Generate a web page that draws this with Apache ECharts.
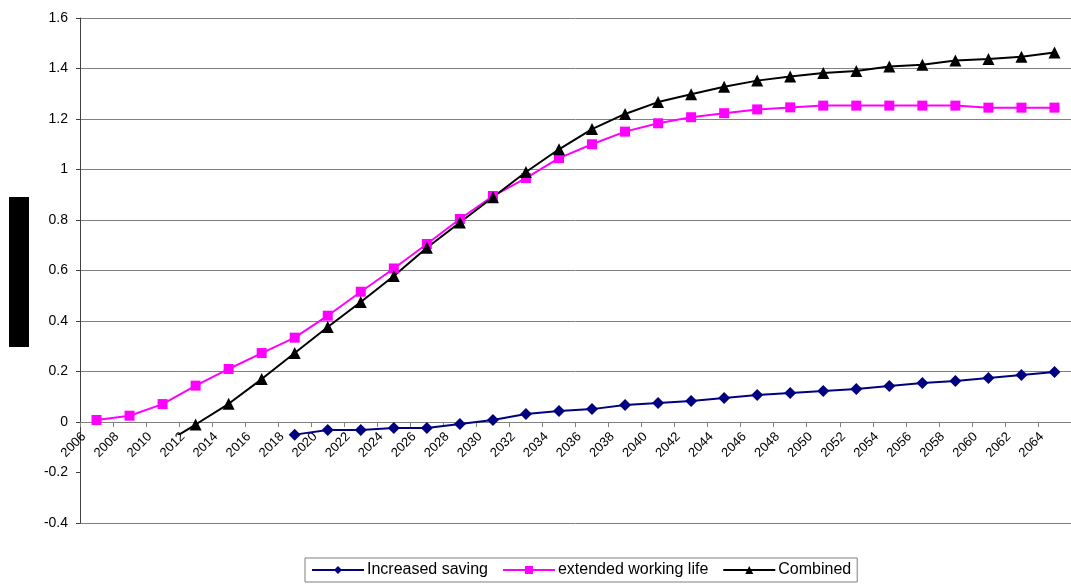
<!DOCTYPE html>
<html>
<head>
<meta charset="utf-8">
<script src="https://cdn.jsdelivr.net/npm/echarts@6/dist/echarts.min.js"></script>
<style>
  html, body { margin: 0; padding: 0; background: #ffffff; }
  #chart { width: 1071px; height: 585px; }
</style>
</head>
<body>
<div id="chart"></div>
<script>
// Years on the category axis
var years = [
  '2006','2008','2010','2012','2014','2016','2018','2020','2022','2024',
  '2026','2028','2030','2032','2034','2036','2038','2040','2042','2044',
  '2046','2048','2050','2052','2054','2056','2058','2060','2062','2064'
];

// Increased saving
var increasedSaving = [
  -0.18, -0.17, -0.16, -0.154, -0.14, -0.10, -0.05, -0.032, -0.032, -0.024,
  -0.024, -0.008, 0.008, 0.032, 0.044, 0.051, 0.067, 0.075, 0.083, 0.095,
  0.107, 0.115, 0.123, 0.131, 0.143, 0.154, 0.162, 0.174, 0.186, 0.198
];

// Extended working life
var extendedWorkingLife = [
  0.008, 0.025, 0.071, 0.144, 0.21, 0.273, 0.334, 0.421, 0.516, 0.608,
  0.705, 0.804, 0.895, 0.966, 1.045, 1.10, 1.15, 1.183, 1.207, 1.223,
  1.238, 1.246, 1.253, 1.253, 1.253, 1.253, 1.253, 1.245, 1.245, 1.245
];

// Combined
var combined = [
  -0.17, -0.15, -0.09, -0.01, 0.072, 0.17, 0.273, 0.376, 0.475, 0.578,
  0.69, 0.79, 0.89, 0.99, 1.08, 1.16, 1.22, 1.267, 1.298, 1.328,
  1.352, 1.368, 1.382, 1.39, 1.408, 1.415, 1.432, 1.438, 1.447, 1.463
];

var seriesNames = ['Increased saving', 'extended working life', 'Combined'];
var seriesColors = ['#000080', '#ff00ff', '#000000'];

// Value axis range and step
var yMin = -0.4, yMax = 1.6, yStep = 0.2;
// the band under the category labels hides everything between these values
var bandTop = -0.05, bandBottom = -0.21;

var gridTop = 18, gridHeight = 505;
// the category axis sits on the zero line of the value axis
var zeroOffset = -gridHeight * (0 - yMin) / (yMax - yMin);

// split line colours, from the bottom line up; the -0.2 line lies under the label band
var splitColors = [];
for (var v = yMin; v <= yMax + 1e-9; v += yStep) {
  splitColors.push(v > bandBottom && v < bandTop ? 'rgba(0,0,0,0)' : '#808080');
}

var font = 'Liberation Sans, Arial, sans-serif';
var clear = 'rgba(255,255,255,0)';

var chart = echarts.init(document.getElementById('chart'), null, { renderer: 'canvas' });

chart.setOption({
  animation: false,
  backgroundColor: '#ffffff',
  textStyle: { fontFamily: font },
  grid: { left: 80, top: gridTop, right: 0, height: gridHeight, containLabel: false },
  graphic: [
    { type: 'rect', left: 9, top: 197, shape: { width: 20, height: 150 }, style: { fill: '#000000' } }
  ],
  visualMap: seriesColors.map(function (c, i) {
    return {
      type: 'piecewise',
      show: false,
      seriesIndex: i,
      dimension: 1,
      pieces: [
        { lt: bandBottom, color: c },
        { gte: bandBottom, lt: bandTop, color: clear },
        { gte: bandTop, color: c }
      ]
    };
  }),
  legend: {
    left: 305,
    top: 558,
    padding: [4, 6, 4, 6],
    itemGap: 14,
    itemWidth: 52,
    itemHeight: 10,
    borderColor: '#7f7f7f',
    borderWidth: 1,
    backgroundColor: '#ffffff',
    textStyle: { fontFamily: font, fontSize: 16, color: '#000000', padding: [0, 0, 0, -2] },
    data: seriesNames.map(function (n, i) {
      return { name: n, itemStyle: { color: seriesColors[i] }, lineStyle: { color: seriesColors[i] } };
    })
  },
  xAxis: {
    type: 'category',
    data: years,
    boundaryGap: true,
    position: 'bottom',
    offset: zeroOffset,
    axisLine: { onZero: false, lineStyle: { color: '#808080', width: 1 } },
    axisTick: { show: true, length: 5, lineStyle: { color: '#808080' } },
    axisLabel: {
      interval: 0,
      rotate: 45,
      margin: 0,
      fontSize: 13,
      color: '#000000',
      fontFamily: font,
      padding: [0, 18, 0, 0]
    },
    splitLine: { show: false }
  },
  yAxis: {
    type: 'value',
    min: yMin,
    max: yMax,
    interval: yStep,
    axisLine: { show: true, lineStyle: { color: '#404040', width: 1 } },
    axisTick: { show: true, length: 4, lineStyle: { color: '#404040' } },
    axisLabel: {
      margin: 12,
      fontSize: 14,
      color: '#000000',
      fontFamily: font,
      formatter: function (v) { return String(Math.round(v * 10) / 10); }
    },
    splitLine: { show: true, lineStyle: { color: splitColors, width: 1 } }
  },
  series: [
    {
      name: seriesNames[0],
      type: 'line',
      data: increasedSaving,
      symbol: 'diamond',
      symbolSize: [12, 12],
      lineStyle: { width: 2 }
    },
    {
      name: seriesNames[1],
      type: 'line',
      data: extendedWorkingLife,
      symbol: 'rect',
      symbolSize: 10,
      lineStyle: { width: 2 }
    },
    {
      name: seriesNames[2],
      type: 'line',
      data: combined,
      symbol: 'triangle',
      symbolSize: 12,
      lineStyle: { width: 2 }
    }
  ]
});
</script>
</body>
</html>
